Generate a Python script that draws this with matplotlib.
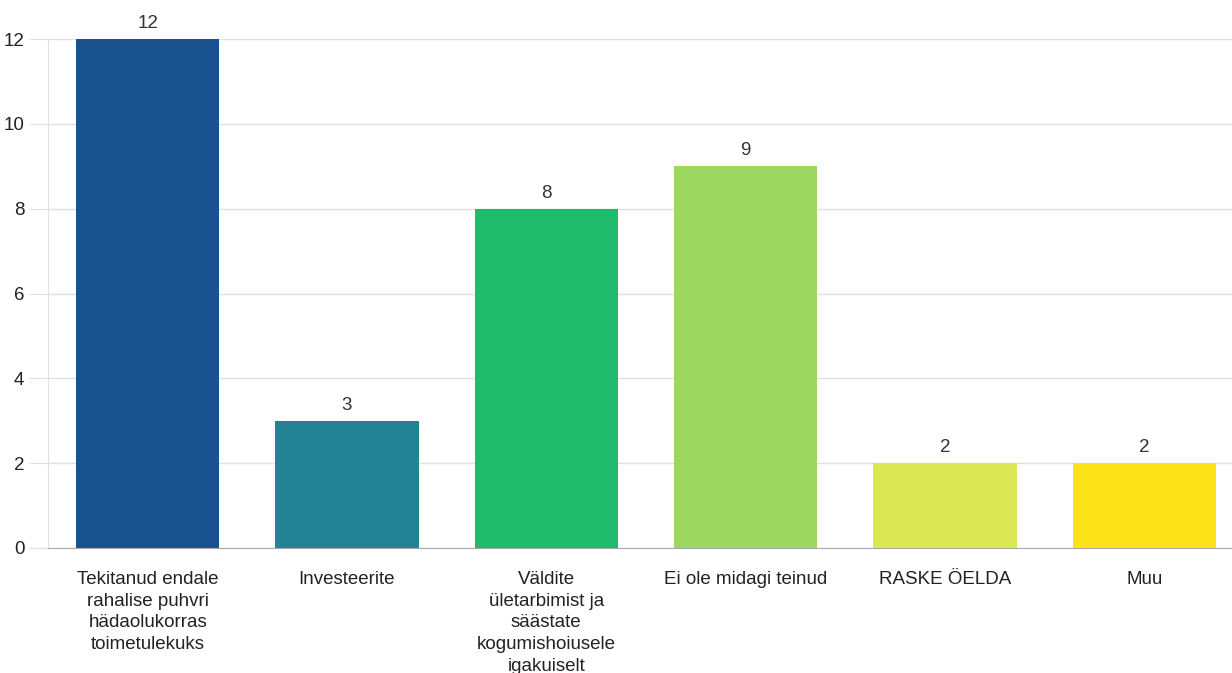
import matplotlib.pyplot as plt

plt.rcParams['font.family'] = ['Liberation Sans', 'DejaVu Sans']

categories = [
    "Tekitanud endale\nrahalise puhvri\nhädaolukorras\ntoimetulekuks",
    "Investeerite",
    "Väldite\nületarbimist ja\nsäästate\nkogumishoiusele\nigakuiselt",
    "Ei ole midagi teinud",
    "RASKE ÖELDA",
    "Muu",
]
values = [12, 3, 8, 9, 2, 2]
colors = ["#1a5290", "#238294", "#1fbb6c", "#9cd762", "#d9e852", "#fde21a"]
yticks = [0, 2, 4, 6, 8, 10, 12]

fig = plt.figure(figsize=(12.32, 6.73), dpi=100)
ax = fig.add_axes([48 / 1232, 1 - 548 / 673, 1 - 48 / 1232, (548 - 39) / 673])

x = range(len(values))
bars = ax.bar(x, values, width=0.72, color=colors, zorder=3)

for b, v in zip(bars, values):
    ax.annotate(str(v), (b.get_x() + b.get_width() / 2, v), xytext=(0, 5),
                textcoords="offset points", ha="center", va="bottom",
                fontsize=13.5, color="#333333", annotation_clip=False)

ax.set_xlim(-0.5, 5.44)
ax.set_ylim(0, 12)
ax.set_yticks(yticks)
ax.set_xticks(list(x))
ax.set_xticklabels(categories, fontsize=13.5, color="#222222", linespacing=1.36, va="top")
ax.tick_params(axis="x", length=0, pad=16.5)
ax.tick_params(axis="y", length=14, color="#e0e0e0", labelsize=13.5, labelcolor="#222222", pad=3)

ax.grid(axis="y", color="#e0e0e0", linewidth=1, zorder=0)
for s in ["top", "right"]:
    ax.spines[s].set_visible(False)
ax.spines["left"].set_color("#e0e0e0")
ax.spines["bottom"].set_color("#aaaaaa")
ax.spines["bottom"].set_zorder(4)

fig.savefig("out.png", dpi=100)
